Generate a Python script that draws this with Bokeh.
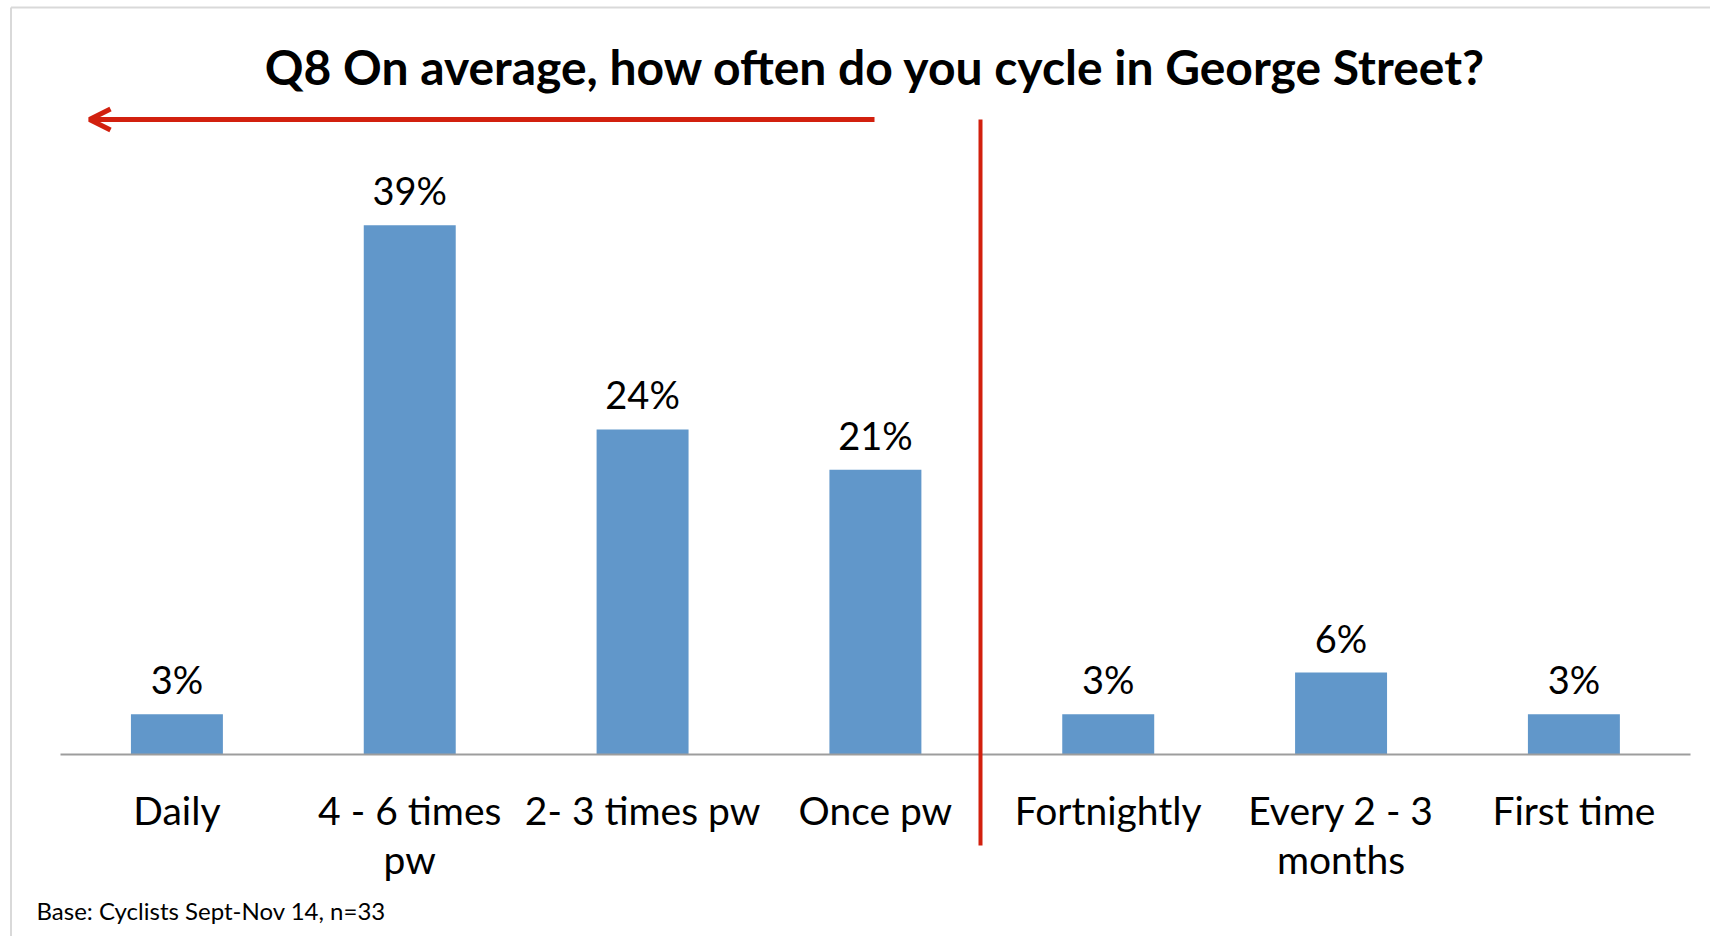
from bokeh.plotting import figure
from bokeh.models import Range1d, Arrow, OpenHead, ColumnDataSource, LinearAxis, FixedTicker
from bokeh.core.properties import value
from bokeh.embed import file_html
from bokeh.resources import INLINE

# ---- data ----
categories = ["Daily", "4 - 6 times\npw", "2- 3 times pw", "Once pw",
              "Fortnightly", "Every 2 - 3\nmonths", "First time"]
percent = [3.0, 39.4, 24.2, 21.2, 3.0, 6.1, 3.0]
labels = [f"{round(v)}%" for v in percent]
title_text = "Q8 On average, how often do you cycle in George Street?"
base_text = "Base: Cyclists Sept-Nov 14, n=33"

BAR = "#6197ca"
RED = "#d2200e"
FONT = "Lato"

W, H = 1710, 936
AX_LEFT, CAT_W = 60, 232.83     # pixel position of category axis start, pixels per category
AX_Y, PX_PER_PCT = 754, 13.43   # pixel row of the baseline, pixels per percent

def px2x(px):
    return (px - AX_LEFT) / CAT_W

def py2y(py):
    return (AX_Y - py) / PX_PER_PCT

n = len(categories)
xs = [i + 0.5 for i in range(n)]

p = figure(width=W, height=H, output_backend="svg", toolbar_location=None,
           x_range=Range1d(px2x(0), px2x(W)), y_range=Range1d(py2y(H), py2y(0)),
           x_axis_type=None, y_axis_type=None,
           min_border=0, min_border_left=0, min_border_right=0,
           min_border_top=0, min_border_bottom=0)
p.outline_line_color = None
p.xgrid.grid_line_color = None
p.ygrid.grid_line_color = None
p.background_fill_color = "white"
p.border_fill_color = "white"

# light frame lines of the slide
p.segment(x0=[px2x(10.5), px2x(10.5)], y0=[py2y(7), py2y(7)],
          x1=[px2x(W), px2x(10.5)], y1=[py2y(7), py2y(H)],
          line_color="#d9d9d9", line_width=2)

src = ColumnDataSource(dict(x=xs, top=percent, label=labels))
p.vbar(x="x", top="top", bottom=0, width=0.395, source=src,
       fill_color=BAR, line_color=None)
p.text(x="x", y="top", text="label", source=src, y_offset=-35,
       text_align="center", text_baseline="alphabetic",
       text_font=value(FONT), text_font_size="38px", text_color="black")

ax = LinearAxis(fixed_location=0, bounds=(0, n),
                ticker=FixedTicker(ticks=xs),
                major_label_overrides={x: c for x, c in zip(xs, categories)})
ax.axis_line_color = "#9d9d9d"
ax.axis_line_width = 2
ax.major_tick_line_color = None
ax.minor_tick_line_color = None
ax.major_label_text_font = FONT
ax.major_label_text_font_size = "39px"
ax.major_label_text_color = "black"
ax.major_label_text_line_height = 1.08
ax.major_label_standoff = 26
p.add_layout(ax, "below")

# title
p.text(x=[px2x(875)], y=[py2y(66)], text=[title_text],
       text_align="center", text_baseline="middle",
       text_font=value(FONT), text_font_size="48px", text_font_style="bold",
       text_color="black")

# arrow pointing to the frequent-cyclist side
p.add_layout(Arrow(end=OpenHead(size=21, line_width=5, line_color=RED),
                   x_start=px2x(874), y_start=py2y(119), x_end=px2x(89), y_end=py2y(119),
                   line_width=5, line_color=RED))
# divider line
p.add_layout(Arrow(end=None, x_start=px2x(980), y_start=py2y(119),
                   x_end=px2x(980), y_end=py2y(845),
                   line_width=4, line_color=RED))

# footnote
p.text(x=[px2x(36)], y=[py2y(910)], text=[base_text],
       text_align="left", text_baseline="middle",
       text_font=value(FONT), text_font_size="24px", text_color="black")

open("out.html", "w").write(file_html(p, INLINE))
